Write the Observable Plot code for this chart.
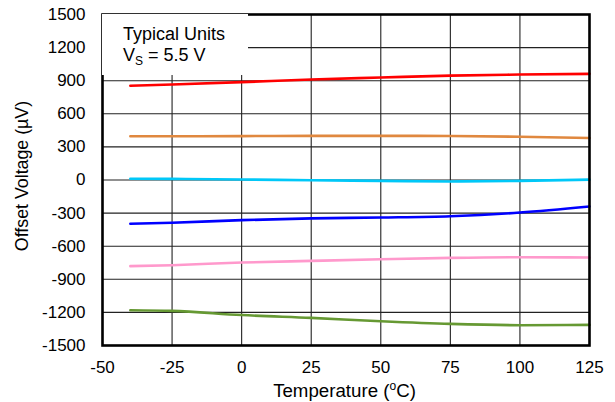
<!DOCTYPE html>
<html>
<head>
<meta charset="utf-8">
<script src="https://cdn.jsdelivr.net/npm/d3@7"></script>
<script src="https://cdn.jsdelivr.net/npm/@observablehq/plot@0.6"></script>
<style>
  html, body { margin: 0; padding: 0; background: #fff; }
  #wrap { width: 615px; height: 402px; }
  svg text { font-family: "Liberation Sans", Arial, sans-serif; font-size: 17px; }
</style>
</head>
<body>
<div id="wrap"></div>
<script>
const temps = [-40, -25, 0, 25, 50, 75, 100, 125];
const seriesNames = ["Unit 1", "Unit 2", "Unit 3", "Unit 4", "Unit 5", "Unit 6"];
const seriesColors = ["#ff0000", "#e0883f", "#00c8f8", "#0000ff", "#ff99cc", "#669933"];
const unit1 = [854, 865, 887, 911, 929, 946, 956, 962];
const unit2 = [397, 396, 398, 400, 400, 399, 392, 380];
const unit3 = [11, 10, 5, -2, -8, -13, -8, 3];
const unit4 = [-397, -388, -364, -348, -340, -328, -295, -240];
const unit5 = [-781, -772, -748, -733, -718, -706, -700, -703];
const unit6 = [-1180, -1186, -1224, -1250, -1280, -1304, -1316, -1313];
const xTicks = [-50, -25, 0, 25, 50, 75, 100, 125];
const yTicks = [-1500, -1200, -900, -600, -300, 0, 300, 600, 900, 1200, 1500];

const allSeries = [unit1, unit2, unit3, unit4, unit5, unit6];
const rows = [];
allSeries.forEach((vals, i) => vals.forEach((v, j) => rows.push({series: seriesNames[i], t: temps[j], v})));

const fmt = d => String(d);

const chart = Plot.plot({
  width: 615,
  height: 402,
  marginLeft: 102,
  marginRight: 26,
  marginTop: 14,
  marginBottom: 57,
  style: {fontFamily: "'Liberation Sans', Arial, sans-serif", fontSize: "17px", color: "#000", background: "#fff"},
  x: {domain: [-50, 125], label: null},
  y: {domain: [-1500, 1500], label: null},
  color: {domain: seriesNames, range: seriesColors},
  marks: [
    Plot.ruleX(xTicks, {stroke: "#222", strokeWidth: 1.1}),
    Plot.ruleY(yTicks, {stroke: "#222", strokeWidth: 1.1}),
    Plot.line(rows, {x: "t", y: "v", z: "series", stroke: "series", strokeWidth: 2.6, curve: "monotone-x"}),
    Plot.frame({stroke: "#000", strokeWidth: 2.6}),
    Plot.axisX({ticks: xTicks, tickFormat: fmt, tickSize: 0, tickPadding: 15, label: null, fontSize: 17}),
    Plot.axisY({ticks: yTicks, tickFormat: fmt, tickSize: 0, tickPadding: 17, label: null, fontSize: 17})
  ]
});

const svg = d3.select(chart);
const xt = svg.append("text")
  .attr("x", 344.5).attr("y", 397)
  .attr("text-anchor", "middle")
  .style("font-size", "18.7px").attr("fill", "#000");
xt.append("tspan").text("Temperature (");
xt.append("tspan").style("font-size", "12px").attr("dy", -7).text("o");
xt.append("tspan").attr("dy", 7).text("C)");

svg.append("text")
  .attr("transform", "translate(28,176) rotate(-90)")
  .attr("text-anchor", "middle")
  .style("font-size", "17.8px").attr("fill", "#000")
  .text("Offset Voltage (µV)");

// legend box (annotation)
svg.append("rect")
  .attr("x", 102).attr("y", 14).attr("width", 146).attr("height", 61)
  .attr("fill", "#fff");
svg.append("text")
  .attr("x", 123).attr("y", 39.5)
  .attr("text-anchor", "start")
  .style("font-size", "18px").attr("fill", "#000")
  .text("Typical Units");
const vs = svg.append("text")
  .attr("x", 123).attr("y", 61)
  .attr("text-anchor", "start")
  .style("font-size", "18px").attr("fill", "#000");
vs.append("tspan").text("V");
vs.append("tspan").style("font-size", "12px").attr("dy", 4).text("S");
vs.append("tspan").attr("dy", -4).text(" = 5.5 V");

document.getElementById("wrap").appendChild(chart);
</script>
</body>
</html>
